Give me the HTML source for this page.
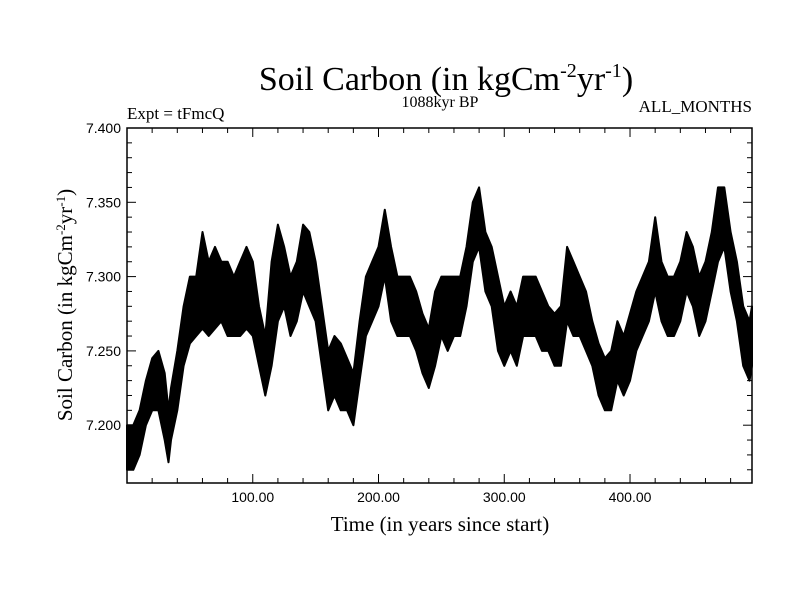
<!DOCTYPE html>
<html><head><meta charset="utf-8"><style>
body{margin:0;background:#fff;}
svg text{font-family:"Liberation Serif",serif;fill:#000;}
svg text.tick{font-family:"Liberation Sans",sans-serif;}
</style></head><body>
<svg width="800" height="600" xmlns="http://www.w3.org/2000/svg">
<text x="446" y="90" font-size="34" text-anchor="middle">Soil Carbon (in kgCm<tspan dy="-13" font-size="20">-2</tspan><tspan dy="13">yr</tspan><tspan dy="-13" font-size="20">-1</tspan><tspan dy="13">)</tspan></text>
<text x="127" y="119" font-size="17">Expt = tFmcQ</text>
<text x="440" y="107" font-size="16" text-anchor="middle">1088kyr BP</text>
<text x="752" y="112" font-size="17" text-anchor="end">ALL_MONTHS</text>
<text x="440" y="531" font-size="21" text-anchor="middle">Time (in years since start)</text>
<text transform="translate(72,305) rotate(-90)" font-size="21" text-anchor="middle">Soil Carbon (in kgCm<tspan dy="-7" font-size="13">-2</tspan><tspan dy="7">yr</tspan><tspan dy="-7" font-size="13">-1</tspan><tspan dy="7">)</tspan></text>
<g id="plot"></g>
<rect x="127" y="128" width="625" height="355" fill="none" stroke="#000" stroke-width="1.5"/>
</svg>
<script>
const years=[0,5,10,15,20,25,30,33,35,40,45,50,55,60,65,70,75,80,85,90,95,100,105,110,115,120,125,130,135,140,145,150,155,160,165,170,175,180,185,190,195,200,205,210,215,220,225,230,235,240,245,250,255,260,265,270,275,280,285,290,295,300,305,310,315,320,325,330,335,340,345,350,355,360,365,370,375,380,385,390,395,400,405,410,415,420,425,430,435,440,445,450,455,460,465,470,475,480,485,490,495,497];
const lowVals=[7.17,7.17,7.18,7.20,7.21,7.21,7.19,7.175,7.19,7.21,7.24,7.255,7.26,7.265,7.26,7.265,7.27,7.26,7.26,7.26,7.265,7.26,7.24,7.22,7.24,7.27,7.28,7.26,7.27,7.29,7.28,7.27,7.24,7.21,7.22,7.21,7.21,7.20,7.23,7.26,7.27,7.28,7.30,7.27,7.26,7.26,7.26,7.25,7.235,7.225,7.24,7.26,7.25,7.26,7.26,7.28,7.31,7.32,7.29,7.28,7.25,7.24,7.25,7.24,7.26,7.26,7.26,7.25,7.25,7.24,7.24,7.27,7.26,7.26,7.25,7.24,7.22,7.21,7.21,7.23,7.22,7.23,7.25,7.26,7.27,7.29,7.27,7.26,7.26,7.27,7.29,7.28,7.26,7.27,7.29,7.31,7.32,7.29,7.27,7.24,7.23,7.24];
const highVals=[7.20,7.20,7.21,7.23,7.245,7.25,7.235,7.21,7.225,7.25,7.28,7.30,7.30,7.33,7.31,7.32,7.31,7.31,7.30,7.31,7.32,7.31,7.28,7.26,7.31,7.335,7.32,7.30,7.31,7.335,7.33,7.31,7.28,7.25,7.26,7.255,7.245,7.235,7.27,7.30,7.31,7.32,7.345,7.32,7.30,7.30,7.30,7.29,7.275,7.265,7.29,7.30,7.30,7.30,7.30,7.32,7.35,7.36,7.33,7.32,7.30,7.28,7.29,7.28,7.30,7.30,7.30,7.29,7.28,7.275,7.28,7.32,7.31,7.30,7.29,7.27,7.255,7.245,7.25,7.27,7.26,7.275,7.29,7.30,7.31,7.34,7.31,7.30,7.30,7.31,7.33,7.32,7.30,7.31,7.33,7.36,7.36,7.33,7.31,7.28,7.27,7.28];
const yTicks=[7.2,7.25,7.3,7.35,7.4];
const yTickLabels=["7.200","7.250","7.300","7.350","7.400"];
const xTicks=[100,200,300,400];
const xTickLabels=["100.00","200.00","300.00","400.00"];
const NS="http://www.w3.org/2000/svg";
const X0=127,X1=752,Y0=128,Y1=483,XMIN=0,XMAX=497,YMIN=7.1611,YMAX=7.4;
function xs(v){return X0+(v-XMIN)/(XMAX-XMIN)*(X1-X0);}
function ys(v){return Y1-(v-YMIN)/(YMAX-YMIN)*(Y1-Y0);}
const g=document.getElementById('plot');
function mk(t,a){const e=document.createElementNS(NS,t);for(const k in a)e.setAttribute(k,a[k]);g.appendChild(e);return e;}
let pts=[];
for(let i=0;i<years.length;i++)pts.push(xs(years[i]).toFixed(1)+','+ys(highVals[i]).toFixed(1));
for(let i=years.length-1;i>=0;i--)pts.push(xs(years[i]).toFixed(1)+','+ys(lowVals[i]).toFixed(1));
const band=mk('polygon',{points:pts.join(' '),fill:'#000',stroke:'#000','stroke-width':2,'stroke-linejoin':'round'});


for(let v=7.17;v<=7.4;v+=0.01){
  const y=ys(v);const major=yTicks.some(t=>Math.abs(t-v)<1e-6);const L=major?9:5;
  const t1=mk('line',{x1:X0,x2:X0+L,y1:y,y2:y,stroke:'#000','stroke-width':1});
  
  
  const t2=mk('line',{x1:X1,x2:X1-L,y1:y,y2:y,stroke:'#000','stroke-width':1});
  
  
}
yTicks.forEach((v,i)=>{const t=mk('text',{x:X0-6,y:ys(v)+5,'font-size':14,'text-anchor':'end','class':'tick'});t.textContent=yTickLabels[i];
  
  });
for(let v=20;v<XMAX;v+=20){
  const x=xs(v);const major=xTicks.includes(v);const L=major?9:5;
  const a=mk('line',{x1:x,x2:x,y1:Y1,y2:Y1-L,stroke:'#000','stroke-width':1});
  
  
  const b=mk('line',{x1:x,x2:x,y1:Y0,y2:Y0+L,stroke:'#000','stroke-width':1});
  
  
}
xTicks.forEach((v,i)=>{const t=mk('text',{x:xs(v),y:Y1+19,'font-size':14,'text-anchor':'middle','class':'tick'});t.textContent=xTickLabels[i];
  
  });
</script>
</body></html>
